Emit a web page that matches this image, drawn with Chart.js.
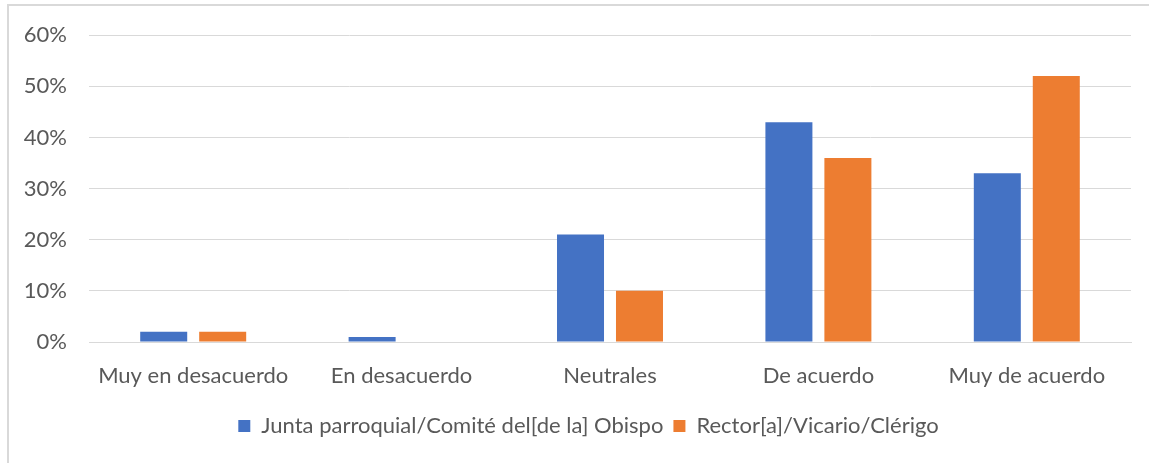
<!DOCTYPE html>
<html>
<head>
<meta charset="utf-8">
<script src="https://cdn.jsdelivr.net/npm/chart.js@4.4.0/dist/chart.umd.min.js"></script>
<style>
  html, body { margin: 0; padding: 0; background: #fff; overflow: hidden; }
  #frame {
    position: absolute; left: 7px; top: 4px; width: 1200px; height: 500px;
    border-left: 2px solid #d9d9d9; border-top: 2px solid #d9d9d9;
  }
  #wrap { position: absolute; left: 0; top: 0; width: 1149px; height: 463px; }
</style>
</head>
<body>
<div id="frame"></div>
<div id="wrap"><canvas id="myChart" width="1149" height="463"></canvas></div>
<script>
const categories = ['Muy en desacuerdo', 'En desacuerdo', 'Neutrales', 'De acuerdo', 'Muy de acuerdo'];
const juntaValues = [2, 1, 21, 43, 33];
const rectorValues = [2, 0, 10, 36, 52];
const seriesNames = ['Junta parroquial/Comité del[de la] Obispo', 'Rector[a]/Vicario/Clérigo'];
const yTicks = [0, 10, 20, 30, 40, 50, 60];

Chart.defaults.font.family = "Lato, 'Open Sans', sans-serif";
Chart.defaults.color = '#595959';

// the legend in the original sits a little right of the canvas centre
const legendShift = {
    id: 'legendShift',
    afterLayout(chart) {
        chart.legend.left += 23;
        chart.legend.right += 23;
    }
};

const ctx = document.getElementById('myChart').getContext('2d');
const myChart = new Chart(ctx, {
    type: 'bar',
    data: {
        labels: categories,
        datasets: [{
            label: seriesNames[0],
            data: juntaValues,
            backgroundColor: '#4472C4',
            categoryPercentage: 0.566,
            barPercentage: 0.797
        }, {
            label: seriesNames[1],
            data: rectorValues,
            backgroundColor: '#ED7D31',
            categoryPercentage: 0.566,
            barPercentage: 0.797
        }]
    },
    options: {
        responsive: false,
        animation: false,
        layout: {
            padding: { left: 0, right: 18, top: 26, bottom: 16 }
        },
        scales: {
            x: {
                grid: { display: false, drawTicks: false },
                border: { color: '#d9d9d9', width: 1 },
                ticks: { padding: 21, font: { size: 22 }, color: '#595959' },
                afterFit: (scale) => { scale.height = 63; }
            },
            y: {
                min: 0,
                max: 60,
                afterBuildTicks: (scale) => {
                    scale.ticks = yTicks.map(v => ({ value: v }));
                },
                grid: { color: '#d9d9d9', drawTicks: false },
                border: { display: false },
                ticks: {
                    padding: 22,
                    font: { size: 22 },
                    color: '#595959',
                    callback: (v) => v + '%'
                },
                afterFit: (scale) => { scale.width = 89; }
            }
        },
        plugins: {
            legend: {
                position: 'bottom',
                labels: {
                    boxWidth: 12,
                    boxHeight: 12,
                    padding: 10,
                    font: { size: 22 },
                    color: '#595959'
                }
            },
            tooltip: { enabled: false }
        }
    },
    plugins: [legendShift]
});
</script>
</body>
</html>
